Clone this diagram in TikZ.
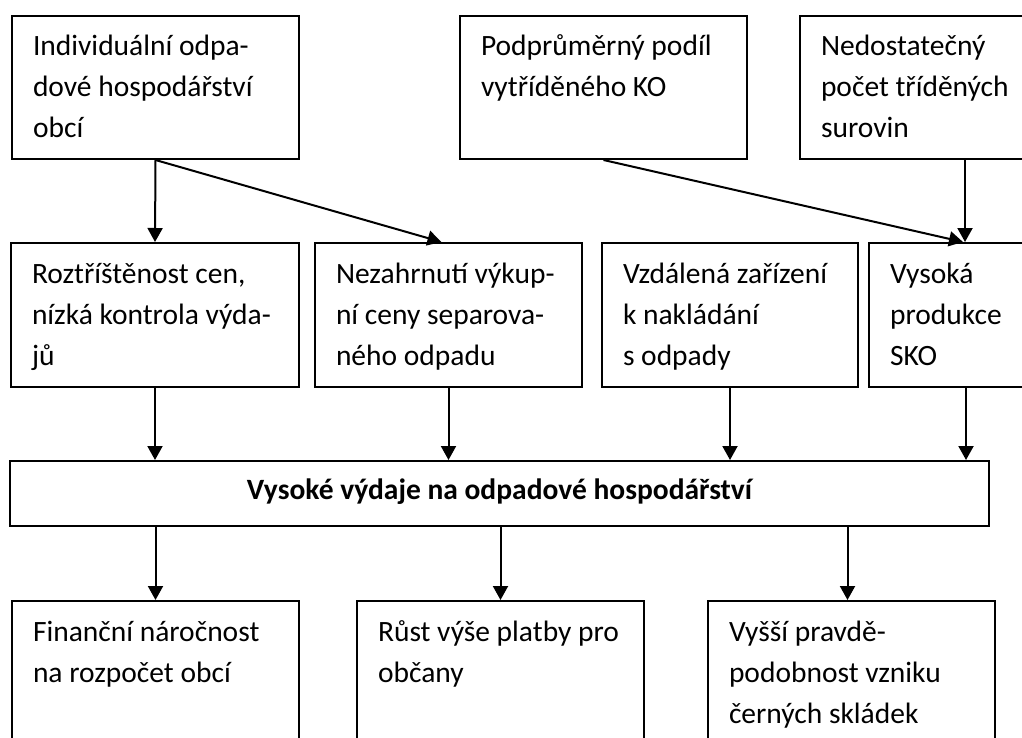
\documentclass[tikz,border=0pt]{standalone}
\usepackage{fontspec}
\setmainfont{Carlito}
\usetikzlibrary{arrows.meta,positioning}
\tikzset{
  cell/.style={draw, line width=2pt, anchor=north west, align=flush left,
    inner xsep=21pt, inner ysep=11pt, text height=29pt,
    font=\fontsize{29.5}{41}\selectfont},
  mainbox/.style={draw, line width=2pt, minimum width=979pt, minimum height=65pt,
    text height=20pt, text depth=9pt, font=\bfseries\fontsize{29.5}{41}\selectfont},
  arr/.style={line width=2pt, -{Triangle[length=14pt,width=15pt]}},
}

\begin{document}
\begin{tikzpicture}[x=1pt, y=-1pt]
\useasboundingbox (0,0) rectangle (1022,738);
\clip (0,0) rectangle (1022,738);

%% Row 1: primary causes
\node[cell, text width=245pt, text depth=92pt] (ind) at (11,15)
  {Individuální odpa-\\dové hospodářství\\obcí};
\node[cell, text width=245pt, text depth=92pt] (podil) at (459,15)
  {Podprůměrný podíl\\vytříděného KO};
\node[cell, text width=288pt, text depth=92pt] (pocet) at (799,15)
  {Nedostatečný\\počet tříděných\\surovin};

%% Row 2: secondary causes
\node[cell, text width=246pt, text depth=93pt] (cen) at (10,242)
  {Roztříštěnost cen,\\nízká kontrola výda-\\jů};
\node[cell, text width=225pt, text depth=93pt] (vykup) at (314,242)
  {Nezahrnutí výkup-\\ní ceny separova-\\ného odpadu};
\node[cell, text width=214pt, text depth=93pt] (zariz) at (601,242)
  {Vzdálená zařízení\\k nakládání\\s odpady};
\node[cell, text width=152pt, text depth=93pt] (sko) at (868,242)
  {Vysoká\\produkce\\SKO};

%% Core problem
\node[mainbox] (vydaje) at (499.5,493.5) {Vysoké výdaje na odpadové hospodářství};

%% Row 3: consequences (cut off at the bottom)
\node[cell, text width=245pt, text depth=109pt] (fin) at (11,600)
  {Finanční náročnost\\na rozpočet obcí};
\node[cell, text width=245pt, text depth=109pt] (platba) at (356,600)
  {Růst výše platby pro\\občany};
\node[cell, text width=245pt, text depth=109pt] (sklad) at (707,600)
  {Vyšší pravdě-\\podobnost vzniku\\černých skládek};

%% Arrows
\draw[arr] (ind.south) -- (cen.north);
\draw[arr] (ind.south) -- ([xshift=-7pt]vykup.north);
\draw[arr] (podil.south) -- ([xshift=-3pt]sko.north);
\draw[arr] (pocet.south) -- (pocet.south |- sko.north);
\foreach \n in {cen,vykup,zariz,sko}
  \draw[arr] (\n.south) -- (\n.south |- vydaje.north);
\foreach \n in {fin,platba}
  \draw[arr] (vydaje.south -| \n.north) -- (\n.north);
\draw[arr] (vydaje.south -| sklad.north) ++(-4,0) -- ([xshift=-4pt]sklad.north);

\end{tikzpicture}
\end{document}
